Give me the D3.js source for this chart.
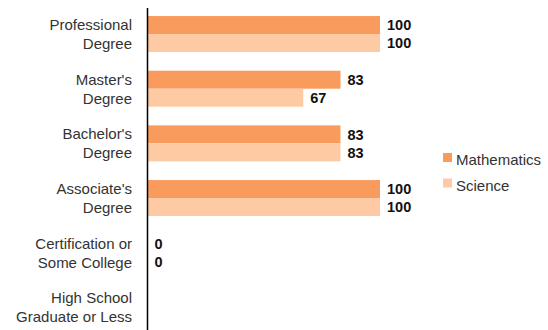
<!DOCTYPE html>
<html><head><meta charset="utf-8">
<script src="https://cdn.jsdelivr.net/npm/d3@7"></script>
<style>body{margin:0;background:#fff}svg{display:block}</style>
</head><body>
<svg id="chart" width="548" height="330"></svg>
<script>
const categories = [["Professional","Degree"],["Master's","Degree"],["Bachelor's","Degree"],["Associate's","Degree"],["Certification or","Some College"],["High School","Graduate or Less"]];
const seriesNames = ["Mathematics","Science"];
const mathValues = [100, 83, 83, 100, 0, null];
const scienceValues = [100, 67, 83, 100, 0, null];
const colors = ["#F89B5C","#FDCAA3"];

const svg = d3.select("#chart");
const font = "'Liberation Sans', Arial, Helvetica, sans-serif";
const x0 = 147.5;
const x = d3.scaleLinear().domain([0,100]).range([x0, 380]);
const y = d3.scaleBand().domain(d3.range(categories.length)).range([6.7, 334.7]).paddingInner(0.342).paddingOuter(0.171);
const sub = d3.scaleBand().domain([0,1]).range([0, y.bandwidth()]);
const series = [mathValues, scienceValues];

series.forEach((vals, si) => {
  const g = svg.append("g");
  vals.forEach((v, i) => {
    if (v === null) return;
    const yy = y(i) + sub(si);
    if (v > 0) {
      g.append("rect").attr("x", x(0)).attr("y", yy).attr("width", x(v) - x(0)).attr("height", sub.bandwidth())
        .attr("fill", colors[si]);
    }
    g.append("text").attr("x", x(v) + 7).attr("y", yy + sub.bandwidth()/2).attr("dy", "0.36em")
      .attr("font-family", font).attr("font-weight", "bold").attr("font-size", 14.5).attr("fill", "#111")
      .text(v);
  });
});

// category labels
categories.forEach((lines, i) => {
  const c = y(i) + y.bandwidth()/2;
  const t = svg.append("text").attr("text-anchor", "end").attr("font-family", font).attr("font-size", 15).attr("fill", "#333");
  t.append("tspan").attr("x", 132).attr("y", c - 4).text(lines[0]);
  t.append("tspan").attr("x", 132).attr("y", c + 15).text(lines[1]);
});

// axis line
svg.append("line").attr("x1", x0).attr("x2", x0).attr("y1", 8).attr("y2", 330).attr("stroke", "#000").attr("stroke-width", 1.5);

// legend
const leg = svg.append("g").attr("transform", "translate(443,153)");
seriesNames.forEach((n, i) => {
  leg.append("rect").attr("x", 0).attr("y", i*25.5).attr("width", 9).attr("height", 9).attr("fill", colors[i]);
  leg.append("text").attr("x", 13).attr("y", i*25.5 + 12).attr("font-family", font).attr("font-size", 15).attr("fill", "#333").text(n);
});
</script>
</body></html>
